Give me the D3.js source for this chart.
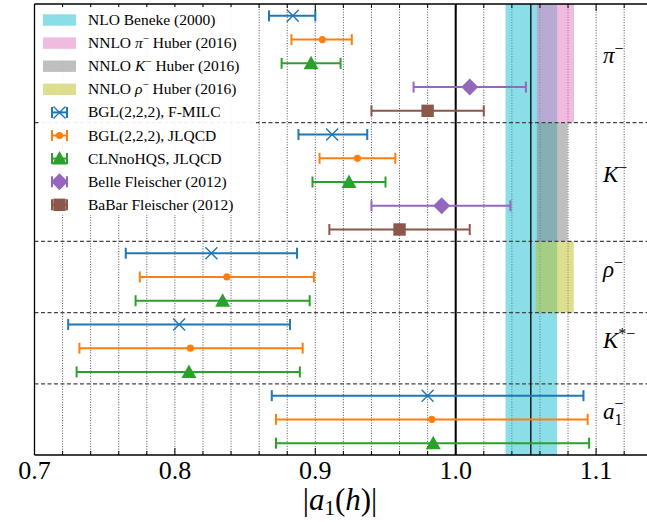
<!DOCTYPE html>
<html>
<head>
<meta charset="utf-8">
<script src="https://cdn.jsdelivr.net/npm/d3@7"></script>
<style>
    body { margin: 0; background: #fff; }
    text { font-family: "Liberation Serif", "DejaVu Serif", serif; }
</style>
</head>
<body>
<div id="chart"></div>
<script>
// =========================
// DATA
// =========================
const groups = ["pi", "K", "rho", "Kstar", "a1"];
const groupRows = [5, 5, 3, 3, 3];

// [central, low, high] per group
const bglFmilc = [[0.884, 0.867, 0.900], [0.912, 0.888, 0.937], [0.826, 0.765, 0.887], [0.803, 0.724, 0.882], [0.980, 0.869, 1.091]];
const bglJlqcd = [[0.905, 0.883, 0.926], [0.930, 0.903, 0.957], [0.837, 0.775, 0.899], [0.811, 0.732, 0.891], [0.983, 0.872, 1.094]];
const clnJlqcd = [[0.897, 0.876, 0.918], [0.924, 0.898, 0.950], [0.834, 0.772, 0.896], [0.810, 0.730, 0.889], [0.984, 0.872, 1.095]];
const belle    = [[1.010, 0.970, 1.050], [0.990, 0.940, 1.039]];
const babar    = [[0.980, 0.940, 1.020], [0.960, 0.910, 1.010]];

const seriesNames = ["BGL(2,2,2), F-MILC", "BGL(2,2,2), JLQCD", "CLNnoHQS, JLQCD", "Belle Fleischer (2012)", "BaBar Fleischer (2012)"];
const seriesValues = [bglFmilc, bglJlqcd, clnJlqcd, belle, babar];
const seriesColors = ["#1f77b4", "#ff7f0e", "#2ca02c", "#9467bd", "#8c564b"];
const seriesMarkers = ["x", "circle", "triangle", "diamond", "square"];

// theory bands [low, high], NLO over all groups, NNLO per group index
const nloBand = [1.0355, 1.0722];
const nnloBands = [
    { name: "NNLO π⁻ Huber (2016)", group: 0, range: [1.0578, 1.0843], color: "#e377c2" },
    { name: "NNLO K⁻ Huber (2016)", group: 1, range: [1.0578, 1.0797], color: "#7f7f7f" },
    { name: "NNLO ρ⁻ Huber (2016)", group: 2, range: [1.0570, 1.0841], color: "#bcbd22" }
];
const refLines = [1.0, 1.0535];
const xTicks = [0.7, 0.8, 0.9, 1.0, 1.1];

// =========================
// SETUP
// =========================
const W = 647, H = 522;
const margin = { top: 4, left: 34.5, bottom: 455 };
const FONT = "Liberation Serif, DejaVu Serif, serif";

const svg = d3.select("#chart")
    .append("svg")
    .attr("width", W)
    .attr("height", H)
    .attr("font-family", FONT);

const x = d3.scaleLinear()
    .domain([0.7, 1.136])
    .range([margin.left, margin.left + 0.436 * 1404]);

const totalRows = d3.sum(groupRows);
const y = d3.scaleLinear()
    .domain([0, totalRows])
    .range([margin.top, margin.bottom]);

const groupStart = groupRows.map((_, i) => d3.sum(groupRows.slice(0, i)));

const plot = svg.append("g");

// =========================
// GRID
// =========================
const gridTicks = d3.range(0, 22).map(i => 0.72 + i * 0.02).filter(v => v < 1.136);
plot.append("g")
    .selectAll("line")
    .data(gridTicks)
    .enter()
    .append("line")
    .attr("x1", d => x(d)).attr("x2", d => x(d))
    .attr("y1", y(0)).attr("y2", y(totalRows))
    .attr("stroke", "#222")
    .attr("stroke-width", 0.8)
    .attr("stroke-dasharray", "1,1.6");

// =========================
// BANDS
// =========================
plot.append("rect")
    .attr("x", x(nloBand[0]))
    .attr("width", x(nloBand[1]) - x(nloBand[0]))
    .attr("y", y(0))
    .attr("height", y(totalRows) - y(0))
    .attr("fill", "#17becf")
    .attr("fill-opacity", 0.5);

plot.selectAll(".nnlo")
    .data(nnloBands)
    .enter()
    .append("rect")
    .attr("x", d => x(d.range[0]))
    .attr("width", d => x(d.range[1]) - x(d.range[0]))
    .attr("y", d => y(groupStart[d.group]))
    .attr("height", d => y(groupStart[d.group] + groupRows[d.group]) - y(groupStart[d.group]))
    .attr("fill", d => d.color)
    .attr("fill-opacity", 0.5);

// group separators
plot.append("g")
    .selectAll("line")
    .data(groupStart.slice(1))
    .enter()
    .append("line")
    .attr("x1", margin.left).attr("x2", W)
    .attr("y1", d => y(d)).attr("y2", d => y(d))
    .attr("stroke", "#444")
    .attr("stroke-width", 1.2)
    .attr("stroke-dasharray", "4,2.5");

// reference lines
plot.append("g")
    .selectAll("line")
    .data(refLines)
    .enter()
    .append("line")
    .attr("x1", d => x(d)).attr("x2", d => x(d))
    .attr("y1", y(0)).attr("y2", y(totalRows))
    .attr("stroke", "#000")
    .attr("stroke-width", (d, i) => i === 0 ? 2 : 1.3);

// =========================
// MARKERS
// =========================
function drawMarker(g, type, cx, cy, color, scale = 1) {
    if (type === "x") {
        const s = 6 * scale;
        g.append("path")
            .attr("d", `M${cx - s},${cy - s}L${cx + s},${cy + s}M${cx - s},${cy + s}L${cx + s},${cy - s}`)
            .attr("stroke", color).attr("stroke-width", 1.4).attr("fill", "none");
    } else if (type === "circle") {
        g.append("circle").attr("cx", cx).attr("cy", cy).attr("r", 3.6 * scale).attr("fill", color);
    } else if (type === "triangle") {
        const s = 7.5 * scale;
        g.append("path")
            .attr("d", `M${cx},${cy - s}L${cx + s},${cy + s * 0.8}L${cx - s},${cy + s * 0.8}Z`)
            .attr("fill", color);
    } else if (type === "diamond") {
        const s = 8.5 * scale;
        g.append("path")
            .attr("d", `M${cx},${cy - s}L${cx + s},${cy}L${cx},${cy + s}L${cx - s},${cy}Z`)
            .attr("fill", color);
    } else if (type === "square") {
        const s = 6.2 * scale;
        g.append("rect").attr("x", cx - s).attr("y", cy - s).attr("width", 2 * s).attr("height", 2 * s).attr("fill", color);
    }
}

function drawErrorbar(g, x0, x1, cy, color) {
    g.append("line")
        .attr("x1", x0).attr("x2", x1).attr("y1", cy).attr("y2", cy)
        .attr("stroke", color).attr("stroke-width", 2);
    [x0, x1].forEach(cx => {
        g.append("line")
            .attr("x1", cx).attr("x2", cx).attr("y1", cy - 5.5).attr("y2", cy + 5.5)
            .attr("stroke", color).attr("stroke-width", 2);
    });
}

const points = plot.append("g");
seriesValues.forEach((vals, si) => {
    vals.forEach((d, gi) => {
        const cy = y(groupStart[gi] + si + 0.5);
        drawErrorbar(points, x(d[1]), x(d[2]), cy, seriesColors[si]);
        drawMarker(points, seriesMarkers[si], x(d[0]), cy, seriesColors[si]);
    });
});

// =========================
// GROUP LABELS
// =========================
const groupLabels = [
    { main: "π", sup: "−" },
    { main: "K", sup: "−" },
    { main: "ρ", sup: "−" },
    { main: "K", sup: "*−" },
    { main: "a", sub: "1", sup: "−" }
];

groupLabels.forEach((lab, gi) => {
    const cy = y(groupStart[gi] + groupRows[gi] / 2);
    const t = svg.append("text")
        .attr("x", 603)
        .attr("y", cy)
        .attr("font-size", 23)
        .attr("fill", "#000");
    t.append("tspan").attr("font-style", "italic").text(lab.main);
    if (lab.sub) {
        t.append("tspan").attr("font-size", 16).attr("dy", 6).text(lab.sub);
        t.append("tspan").attr("font-size", 16).attr("dx", -8).attr("dy", -16).text(lab.sup);
    } else {
        t.append("tspan").attr("font-size", 16).attr("dy", -9).text(lab.sup);
    }
});

// =========================
// AXES
// =========================
const axes = svg.append("g");
axes.append("line")
    .attr("x1", margin.left).attr("x2", W).attr("y1", y(0)).attr("y2", y(0))
    .attr("stroke", "#000").attr("stroke-width", 1.3);
axes.append("line")
    .attr("x1", margin.left).attr("x2", W).attr("y1", y(totalRows)).attr("y2", y(totalRows))
    .attr("stroke", "#000").attr("stroke-width", 1.3);
axes.append("line")
    .attr("x1", margin.left).attr("x2", margin.left).attr("y1", y(0)).attr("y2", y(totalRows))
    .attr("stroke", "#000").attr("stroke-width", 1.3);

const minorTicks = d3.range(0, 22).map(i => 0.7 + i * 0.02).filter(v => v < 1.136);
[y(0), y(totalRows)].forEach((yy, k) => {
    const dir = k === 0 ? 1 : -1;
    axes.append("g").selectAll("line")
        .data(minorTicks)
        .enter()
        .append("line")
        .attr("x1", d => x(d)).attr("x2", d => x(d))
        .attr("y1", yy).attr("y2", d => yy + dir * (xTicks.some(t => Math.abs(t - d) < 1e-6) ? 7 : 4))
        .attr("stroke", "#000").attr("stroke-width", 1);
});

axes.append("g").selectAll("text")
    .data(xTicks)
    .enter()
    .append("text")
    .attr("x", d => x(d))
    .attr("y", 479)
    .attr("text-anchor", "middle")
    .attr("font-size", 26)
    .text(d => d3.format(".1f")(d));

const xl = svg.append("text")
    .attr("x", 340)
    .attr("y", 510)
    .attr("text-anchor", "middle")
    .attr("font-size", 31);
xl.append("tspan").text("|");
xl.append("tspan").attr("font-style", "italic").text("a");
xl.append("tspan").attr("font-size", 21).attr("dy", 5).text("1");
xl.append("tspan").attr("dy", -5).text("(");
xl.append("tspan").attr("font-style", "italic").text("h");
xl.append("tspan").text(")|");

// =========================
// LEGEND
// =========================
const legend = svg.append("g");
legend.append("rect")
    .attr("x", 40).attr("y", 7)
    .attr("width", 216).attr("height", 208)
    .attr("rx", 3)
    .attr("fill", "#fff")
    .attr("fill-opacity", 0.92);

const patchItems = [{ name: "NLO Beneke (2000)", color: "#17becf" }].concat(nnloBands);
const legendY = i => 20 + i * 23.1;

patchItems.forEach((d, i) => {
    legend.append("rect")
        .attr("x", 43).attr("y", legendY(i) - 5.7)
        .attr("width", 33).attr("height", 11.4)
        .attr("fill", d.color).attr("fill-opacity", 0.5);
    const t = legend.append("text")
        .attr("x", 88).attr("y", legendY(i) + 5)
        .attr("font-size", 15.5);
    if (i === 0) {
        t.text(d.name);
    } else {
        const sym = ["π", "K", "ρ"][i - 1];
        t.append("tspan").text("NNLO ");
        t.append("tspan").attr("font-style", "italic").text(sym);
        t.append("tspan").attr("font-size", 11).attr("dy", -6).text("−");
        t.append("tspan").attr("dy", 6).text(" Huber (2016)");
    }
});

seriesNames.forEach((name, si) => {
    const cy = legendY(si + 4);
    drawErrorbar(legend, 52, 67, cy, seriesColors[si]);
    drawMarker(legend, seriesMarkers[si], 59.5, cy, seriesColors[si]);
    legend.append("text")
        .attr("x", 88).attr("y", cy + 5)
        .attr("font-size", 15.5)
        .text(name);
});
</script>
</body>
</html>
